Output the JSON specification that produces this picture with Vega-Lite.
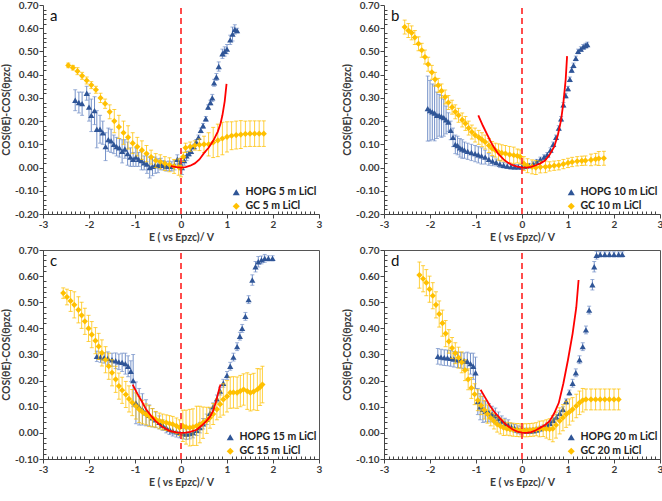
{
"$schema": "https://vega.github.io/schema/vega-lite/v6.json",
"padding": {"left": 0, "top": 0, "right": 0, "bottom": 0},
"columns": 2,
"spacing": {"row": 1, "column": 18},
"resolve": {"scale": {"color": "independent", "shape": "independent"}},
"config": {
  "font": "Lato",
  "view": {"stroke": null},
  "title": {"anchor": "start", "frame": "group", "offset": -24, "dx": 7, "fontSize": 15, "fontWeight": "normal", "font": "Lato", "color": "#111"},
  "axis": {"labelFont": "Lato", "labelFontWeight": "bold", "labelFontSize": 10, "labelColor": "#3a3a3a", "titleFont": "Lato", "titleFontWeight": "bold", "titleFontSize": 10.5, "titleColor": "#3a3a3a", "titlePadding": 3, "domainColor": "#444", "tickColor": "#444", "grid": false, "labelFlush": false, "labelOverlap": false, "labelPadding": 1},
  "legend": {"orient": "bottom-right", "offset": 2, "labelFont": "Lato", "labelFontSize": 10.5, "labelFontWeight": "bold", "labelColor": "#222", "symbolSize": 50, "rowPadding": 3, "padding": 0, "title": null}
},
"datasets": {
  "a": [
    {"s":"H","x":-2.30,"y":0.29,"e":0.045},{"s":"H","x":-2.22,"y":0.28,"e":0.045},{"s":"H","x":-2.15,"y":0.275,"e":0.05},{"s":"H","x":-2.05,"y":0.32,"e":0.03},{"s":"H","x":-2.0,"y":0.26,"e":0.06},{"s":"H","x":-1.95,"y":0.225,"e":0.07},{"s":"H","x":-1.88,"y":0.245,"e":0.06},{"s":"H","x":-1.83,"y":0.165,"e":0.08},{"s":"H","x":-1.76,"y":0.165,"e":0.06},{"s":"H","x":-1.70,"y":0.15,"e":0.05},{"s":"H","x":-1.64,"y":0.09,"e":0.06},{"s":"H","x":-1.58,"y":0.12,"e":0.05},{"s":"H","x":-1.52,"y":0.115,"e":0.05},{"s":"H","x":-1.46,"y":0.10,"e":0.04},{"s":"H","x":-1.40,"y":0.09,"e":0.04},{"s":"H","x":-1.34,"y":0.085,"e":0.04},{"s":"H","x":-1.28,"y":0.07,"e":0.05},{"s":"H","x":-1.22,"y":0.08,"e":0.04},{"s":"H","x":-1.16,"y":0.06,"e":0.05},{"s":"H","x":-1.10,"y":0.045,"e":0.04},{"s":"H","x":-1.04,"y":0.035,"e":0.03},{"s":"H","x":-0.98,"y":0.045,"e":0.04},{"s":"H","x":-0.92,"y":0.035,"e":0.03},{"s":"H","x":-0.86,"y":0.03,"e":0.04},{"s":"H","x":-0.80,"y":0.02,"e":0.03},{"s":"H","x":-0.74,"y":0.015,"e":0.04},{"s":"H","x":-0.68,"y":0.0,"e":0.045},{"s":"H","x":-0.62,"y":0.005,"e":0.04},{"s":"H","x":-0.56,"y":0.01,"e":0.035},{"s":"H","x":-0.50,"y":0.008,"e":0.03},{"s":"H","x":-0.44,"y":0.015,"e":0.025},{"s":"H","x":-0.38,"y":0.01,"e":0.02},{"s":"H","x":-0.32,"y":0.005,"e":0.02},{"s":"H","x":-0.26,"y":0.008,"e":0.02},{"s":"H","x":-0.20,"y":0.005,"e":0.02},{"s":"H","x":-0.14,"y":0.01,"e":0.02},{"s":"H","x":-0.08,"y":0.035,"e":0.02},{"s":"H","x":-0.02,"y":0.02,"e":0.02},{"s":"H","x":0.02,"y":0.0,"e":0.03},{"s":"H","x":0.07,"y":0.03,"e":0.02},{"s":"H","x":0.12,"y":0.05,"e":0.02},{"s":"H","x":0.17,"y":0.06,"e":0.01},{"s":"H","x":0.22,"y":0.07,"e":0.01},{"s":"H","x":0.28,"y":0.09,"e":0.01},{"s":"H","x":0.33,"y":0.11,"e":0.01},{"s":"H","x":0.38,"y":0.13,"e":0.01},{"s":"H","x":0.43,"y":0.16,"e":0.01},{"s":"H","x":0.48,"y":0.18,"e":0.01},{"s":"H","x":0.54,"y":0.21,"e":0.01},{"s":"H","x":0.59,"y":0.26,"e":0.01},{"s":"H","x":0.64,"y":0.28,"e":0.01},{"s":"H","x":0.68,"y":0.30,"e":0.015},{"s":"H","x":0.72,"y":0.365,"e":0.015},{"s":"H","x":0.77,"y":0.39,"e":0.015},{"s":"H","x":0.82,"y":0.435,"e":0.02},{"s":"H","x":0.90,"y":0.49,"e":0.02},{"s":"H","x":0.95,"y":0.50,"e":0.02},{"s":"H","x":1.00,"y":0.51,"e":0.02},{"s":"H","x":1.07,"y":0.55,"e":0.02},{"s":"H","x":1.12,"y":0.575,"e":0.03},{"s":"H","x":1.17,"y":0.595,"e":0.02},{"s":"H","x":1.22,"y":0.59,"e":0.01},
    {"s":"G","x":-2.45,"y":0.44,"e":0.01},{"s":"G","x":-2.35,"y":0.43,"e":0.01},{"s":"G","x":-2.25,"y":0.415,"e":0.015},{"s":"G","x":-2.15,"y":0.395,"e":0.015},{"s":"G","x":-2.05,"y":0.375,"e":0.015},{"s":"G","x":-1.95,"y":0.355,"e":0.015},{"s":"G","x":-1.85,"y":0.335,"e":0.015},{"s":"G","x":-1.75,"y":0.30,"e":0.02},{"s":"G","x":-1.65,"y":0.275,"e":0.02},{"s":"G","x":-1.55,"y":0.24,"e":0.03},{"s":"G","x":-1.45,"y":0.20,"e":0.05},{"s":"G","x":-1.35,"y":0.175,"e":0.05},{"s":"G","x":-1.25,"y":0.15,"e":0.05},{"s":"G","x":-1.15,"y":0.13,"e":0.05},{"s":"G","x":-1.05,"y":0.105,"e":0.045},{"s":"G","x":-0.95,"y":0.09,"e":0.04},{"s":"G","x":-0.85,"y":0.075,"e":0.04},{"s":"G","x":-0.75,"y":0.06,"e":0.035},{"s":"G","x":-0.65,"y":0.045,"e":0.03},{"s":"G","x":-0.55,"y":0.03,"e":0.03},{"s":"G","x":-0.45,"y":0.025,"e":0.03},{"s":"G","x":-0.35,"y":0.017,"e":0.03},{"s":"G","x":-0.25,"y":0.012,"e":0.03},{"s":"G","x":-0.15,"y":0.005,"e":0.03},{"s":"G","x":-0.05,"y":0.002,"e":0.035},{"s":"G","x":0.0,"y":0.0,"e":0.04},{"s":"G","x":0.05,"y":0.046,"e":0.02},{"s":"G","x":0.10,"y":0.085,"e":0.02},{"s":"G","x":0.20,"y":0.09,"e":0.02},{"s":"G","x":0.30,"y":0.095,"e":0.02},{"s":"G","x":0.40,"y":0.098,"e":0.025},{"s":"G","x":0.50,"y":0.10,"e":0.035},{"s":"G","x":0.60,"y":0.10,"e":0.05},{"s":"G","x":0.70,"y":0.108,"e":0.065},{"s":"G","x":0.80,"y":0.117,"e":0.07},{"s":"G","x":0.90,"y":0.125,"e":0.07},{"s":"G","x":1.00,"y":0.132,"e":0.065},{"s":"G","x":1.10,"y":0.137,"e":0.06},{"s":"G","x":1.20,"y":0.14,"e":0.06},{"s":"G","x":1.30,"y":0.142,"e":0.06},{"s":"G","x":1.40,"y":0.145,"e":0.055},{"s":"G","x":1.50,"y":0.146,"e":0.055},{"s":"G","x":1.60,"y":0.146,"e":0.055},{"s":"G","x":1.70,"y":0.146,"e":0.055},{"s":"G","x":1.80,"y":0.146,"e":0.055}
  ],
  "fa": [
    {"x":-0.22,"y":0.006},{"x":-0.1,"y":0.002},{"x":0.0,"y":0.0},{"x":0.1,"y":0.002},{"x":0.2,"y":0.008},{"x":0.3,"y":0.018},{"x":0.4,"y":0.035},{"x":0.5,"y":0.062},{"x":0.6,"y":0.085},{"x":0.7,"y":0.115},{"x":0.8,"y":0.155},{"x":0.86,"y":0.19},{"x":0.9,"y":0.225},{"x":0.95,"y":0.285},{"x":0.99,"y":0.36}
  ],
  "b": [
    {"s":"H","x":-2.05,"y":0.254,"e":0.14},{"s":"H","x":-2.0,"y":0.245,"e":0.13},{"s":"H","x":-1.95,"y":0.24,"e":0.12},{"s":"H","x":-1.90,"y":0.235,"e":0.12},{"s":"H","x":-1.85,"y":0.225,"e":0.1},{"s":"H","x":-1.80,"y":0.225,"e":0.09},{"s":"H","x":-1.75,"y":0.22,"e":0.09},{"s":"H","x":-1.70,"y":0.215,"e":0.08},{"s":"H","x":-1.65,"y":0.205,"e":0.06},{"s":"H","x":-1.60,"y":0.196,"e":0.04},{"s":"H","x":-1.55,"y":0.16,"e":0.04},{"s":"H","x":-1.50,"y":0.13,"e":0.04},{"s":"H","x":-1.45,"y":0.10,"e":0.04},{"s":"H","x":-1.40,"y":0.095,"e":0.04},{"s":"H","x":-1.35,"y":0.085,"e":0.04},{"s":"H","x":-1.30,"y":0.08,"e":0.04},{"s":"H","x":-1.25,"y":0.075,"e":0.035},{"s":"H","x":-1.18,"y":0.07,"e":0.035},{"s":"H","x":-1.10,"y":0.065,"e":0.035},{"s":"H","x":-1.02,"y":0.06,"e":0.035},{"s":"H","x":-0.95,"y":0.055,"e":0.035},{"s":"H","x":-0.88,"y":0.05,"e":0.035},{"s":"H","x":-0.80,"y":0.045,"e":0.03},{"s":"H","x":-0.72,"y":0.035,"e":0.025},{"s":"H","x":-0.64,"y":0.028,"e":0.02},{"s":"H","x":-0.56,"y":0.022,"e":0.015},{"s":"H","x":-0.48,"y":0.015,"e":0.015},{"s":"H","x":-0.40,"y":0.01,"e":0.012},{"s":"H","x":-0.32,"y":0.006,"e":0.01},{"s":"H","x":-0.24,"y":0.004,"e":0.01},{"s":"H","x":-0.16,"y":0.003,"e":0.01},{"s":"H","x":-0.08,"y":0.003,"e":0.01},{"s":"H","x":0.0,"y":0.003,"e":0.01},{"s":"H","x":0.08,"y":0.005,"e":0.01},{"s":"H","x":0.16,"y":0.008,"e":0.01},{"s":"H","x":0.24,"y":0.015,"e":0.01},{"s":"H","x":0.32,"y":0.025,"e":0.01},{"s":"H","x":0.40,"y":0.035,"e":0.01},{"s":"H","x":0.48,"y":0.045,"e":0.01},{"s":"H","x":0.55,"y":0.055,"e":0.01},{"s":"H","x":0.62,"y":0.075,"e":0.01},{"s":"H","x":0.68,"y":0.10,"e":0.01},{"s":"H","x":0.74,"y":0.13,"e":0.01},{"s":"H","x":0.80,"y":0.17,"e":0.01},{"s":"H","x":0.85,"y":0.21,"e":0.01},{"s":"H","x":0.90,"y":0.27,"e":0.01},{"s":"H","x":0.95,"y":0.31,"e":0.01},{"s":"H","x":1.00,"y":0.34,"e":0.01},{"s":"H","x":1.04,"y":0.38,"e":0.01},{"s":"H","x":1.08,"y":0.42,"e":0.01},{"s":"H","x":1.12,"y":0.44,"e":0.01},{"s":"H","x":1.17,"y":0.47,"e":0.01},{"s":"H","x":1.22,"y":0.50,"e":0.01},{"s":"H","x":1.28,"y":0.51,"e":0.01},{"s":"H","x":1.33,"y":0.52,"e":0.01},{"s":"H","x":1.38,"y":0.525,"e":0.01},{"s":"H","x":1.42,"y":0.53,"e":0.01},
    {"s":"G","x":-2.55,"y":0.605,"e":0.03},{"s":"G","x":-2.47,"y":0.59,"e":0.03},{"s":"G","x":-2.40,"y":0.58,"e":0.03},{"s":"G","x":-2.33,"y":0.56,"e":0.03},{"s":"G","x":-2.25,"y":0.533,"e":0.03},{"s":"G","x":-2.18,"y":0.505,"e":0.03},{"s":"G","x":-2.11,"y":0.476,"e":0.03},{"s":"G","x":-2.04,"y":0.445,"e":0.03},{"s":"G","x":-1.96,"y":0.41,"e":0.03},{"s":"G","x":-1.89,"y":0.38,"e":0.03},{"s":"G","x":-1.82,"y":0.354,"e":0.03},{"s":"G","x":-1.75,"y":0.33,"e":0.03},{"s":"G","x":-1.67,"y":0.304,"e":0.03},{"s":"G","x":-1.60,"y":0.28,"e":0.03},{"s":"G","x":-1.52,"y":0.26,"e":0.03},{"s":"G","x":-1.45,"y":0.24,"e":0.03},{"s":"G","x":-1.38,"y":0.225,"e":0.03},{"s":"G","x":-1.30,"y":0.205,"e":0.03},{"s":"G","x":-1.23,"y":0.19,"e":0.03},{"s":"G","x":-1.16,"y":0.17,"e":0.03},{"s":"G","x":-1.09,"y":0.153,"e":0.03},{"s":"G","x":-1.02,"y":0.14,"e":0.03},{"s":"G","x":-0.94,"y":0.13,"e":0.03},{"s":"G","x":-0.87,"y":0.12,"e":0.03},{"s":"G","x":-0.80,"y":0.11,"e":0.03},{"s":"G","x":-0.72,"y":0.095,"e":0.03},{"s":"G","x":-0.65,"y":0.082,"e":0.03},{"s":"G","x":-0.58,"y":0.075,"e":0.03},{"s":"G","x":-0.51,"y":0.067,"e":0.035},{"s":"G","x":-0.44,"y":0.063,"e":0.035},{"s":"G","x":-0.36,"y":0.06,"e":0.035},{"s":"G","x":-0.27,"y":0.056,"e":0.035},{"s":"G","x":-0.18,"y":0.053,"e":0.035},{"s":"G","x":-0.10,"y":0.05,"e":0.03},{"s":"G","x":-0.04,"y":0.046,"e":0.03},{"s":"G","x":0.04,"y":0.017,"e":0.03},{"s":"G","x":0.12,"y":0.008,"e":0.03},{"s":"G","x":0.22,"y":0.003,"e":0.03},{"s":"G","x":0.30,"y":0.0,"e":0.03},{"s":"G","x":0.40,"y":0.002,"e":0.025},{"s":"G","x":0.51,"y":0.003,"e":0.025},{"s":"G","x":0.60,"y":0.005,"e":0.02},{"s":"G","x":0.70,"y":0.008,"e":0.02},{"s":"G","x":0.80,"y":0.01,"e":0.02},{"s":"G","x":0.90,"y":0.015,"e":0.02},{"s":"G","x":1.00,"y":0.02,"e":0.02},{"s":"G","x":1.09,"y":0.024,"e":0.02},{"s":"G","x":1.20,"y":0.027,"e":0.02},{"s":"G","x":1.30,"y":0.029,"e":0.02},{"s":"G","x":1.38,"y":0.03,"e":0.02},{"s":"G","x":1.50,"y":0.033,"e":0.025},{"s":"G","x":1.60,"y":0.036,"e":0.025},{"s":"G","x":1.67,"y":0.039,"e":0.03},{"s":"G","x":1.78,"y":0.04,"e":0.03}
  ],
  "fb": [
    {"x":-0.95,"y":0.225},{"x":-0.85,"y":0.18},{"x":-0.75,"y":0.14},{"x":-0.65,"y":0.10},{"x":-0.52,"y":0.06},{"x":-0.4,"y":0.035},{"x":-0.3,"y":0.02},{"x":-0.2,"y":0.01},{"x":-0.1,"y":0.004},{"x":0.0,"y":0.001},{"x":0.1,"y":0.0},{"x":0.2,"y":0.003},{"x":0.3,"y":0.01},{"x":0.4,"y":0.018},{"x":0.5,"y":0.03},{"x":0.6,"y":0.055},{"x":0.7,"y":0.09},{"x":0.78,"y":0.14},{"x":0.85,"y":0.205},{"x":0.9,"y":0.28},{"x":0.95,"y":0.38},{"x":0.98,"y":0.48}
  ],
  "c": [
    {"s":"H","x":-1.83,"y":0.293,"e":0.02},{"s":"H","x":-1.75,"y":0.29,"e":0.02},{"s":"H","x":-1.67,"y":0.287,"e":0.02},{"s":"H","x":-1.59,"y":0.285,"e":0.025},{"s":"H","x":-1.50,"y":0.28,"e":0.025},{"s":"H","x":-1.42,"y":0.276,"e":0.03},{"s":"H","x":-1.35,"y":0.272,"e":0.03},{"s":"H","x":-1.28,"y":0.27,"e":0.035},{"s":"H","x":-1.21,"y":0.265,"e":0.04},{"s":"H","x":-1.15,"y":0.255,"e":0.04},{"s":"H","x":-1.09,"y":0.236,"e":0.04},{"s":"H","x":-1.04,"y":0.20,"e":0.1},{"s":"H","x":-0.98,"y":0.115,"e":0.08},{"s":"H","x":-0.91,"y":0.10,"e":0.07},{"s":"H","x":-0.84,"y":0.09,"e":0.06},{"s":"H","x":-0.76,"y":0.077,"e":0.05},{"s":"H","x":-0.69,"y":0.067,"e":0.04},{"s":"H","x":-0.62,"y":0.058,"e":0.035},{"s":"H","x":-0.55,"y":0.05,"e":0.03},{"s":"H","x":-0.47,"y":0.04,"e":0.025},{"s":"H","x":-0.40,"y":0.03,"e":0.02},{"s":"H","x":-0.32,"y":0.02,"e":0.02},{"s":"H","x":-0.25,"y":0.014,"e":0.02},{"s":"H","x":-0.18,"y":0.008,"e":0.02},{"s":"H","x":-0.10,"y":0.004,"e":0.02},{"s":"H","x":-0.03,"y":0.001,"e":0.02},{"s":"H","x":0.05,"y":-0.003,"e":0.02},{"s":"H","x":0.12,"y":-0.005,"e":0.02},{"s":"H","x":0.19,"y":-0.003,"e":0.02},{"s":"H","x":0.26,"y":0.001,"e":0.02},{"s":"H","x":0.34,"y":0.01,"e":0.02},{"s":"H","x":0.41,"y":0.02,"e":0.02},{"s":"H","x":0.48,"y":0.035,"e":0.02},{"s":"H","x":0.56,"y":0.052,"e":0.02},{"s":"H","x":0.63,"y":0.075,"e":0.02},{"s":"H","x":0.70,"y":0.10,"e":0.015},{"s":"H","x":0.78,"y":0.13,"e":0.015},{"s":"H","x":0.85,"y":0.16,"e":0.015},{"s":"H","x":0.92,"y":0.19,"e":0.015},{"s":"H","x":1.00,"y":0.22,"e":0.015},{"s":"H","x":1.07,"y":0.255,"e":0.015},{"s":"H","x":1.14,"y":0.29,"e":0.015},{"s":"H","x":1.22,"y":0.33,"e":0.015},{"s":"H","x":1.28,"y":0.37,"e":0.015},{"s":"H","x":1.33,"y":0.40,"e":0.015},{"s":"H","x":1.40,"y":0.446,"e":0.015},{"s":"H","x":1.47,"y":0.51,"e":0.015},{"s":"H","x":1.55,"y":0.585,"e":0.02},{"s":"H","x":1.62,"y":0.636,"e":0.02},{"s":"H","x":1.68,"y":0.655,"e":0.02},{"s":"H","x":1.75,"y":0.662,"e":0.015},{"s":"H","x":1.82,"y":0.668,"e":0.015},{"s":"H","x":1.90,"y":0.668,"e":0.01},{"s":"H","x":1.99,"y":0.668,"e":0.01},
    {"s":"G","x":-2.56,"y":0.535,"e":0.02},{"s":"G","x":-2.48,"y":0.52,"e":0.03},{"s":"G","x":-2.40,"y":0.505,"e":0.04},{"s":"G","x":-2.32,"y":0.49,"e":0.05},{"s":"G","x":-2.23,"y":0.471,"e":0.05},{"s":"G","x":-2.16,"y":0.45,"e":0.05},{"s":"G","x":-2.09,"y":0.427,"e":0.05},{"s":"G","x":-2.01,"y":0.40,"e":0.05},{"s":"G","x":-1.94,"y":0.376,"e":0.05},{"s":"G","x":-1.86,"y":0.353,"e":0.05},{"s":"G","x":-1.79,"y":0.331,"e":0.05},{"s":"G","x":-1.72,"y":0.306,"e":0.05},{"s":"G","x":-1.64,"y":0.28,"e":0.05},{"s":"G","x":-1.57,"y":0.255,"e":0.05},{"s":"G","x":-1.50,"y":0.23,"e":0.05},{"s":"G","x":-1.42,"y":0.205,"e":0.05},{"s":"G","x":-1.35,"y":0.179,"e":0.05},{"s":"G","x":-1.28,"y":0.163,"e":0.05},{"s":"G","x":-1.20,"y":0.147,"e":0.05},{"s":"G","x":-1.13,"y":0.13,"e":0.05},{"s":"G","x":-1.06,"y":0.116,"e":0.05},{"s":"G","x":-0.98,"y":0.103,"e":0.05},{"s":"G","x":-0.91,"y":0.09,"e":0.05},{"s":"G","x":-0.84,"y":0.08,"e":0.045},{"s":"G","x":-0.76,"y":0.071,"e":0.04},{"s":"G","x":-0.69,"y":0.064,"e":0.04},{"s":"G","x":-0.62,"y":0.058,"e":0.035},{"s":"G","x":-0.55,"y":0.052,"e":0.03},{"s":"G","x":-0.47,"y":0.046,"e":0.03},{"s":"G","x":-0.40,"y":0.042,"e":0.03},{"s":"G","x":-0.32,"y":0.039,"e":0.03},{"s":"G","x":-0.25,"y":0.036,"e":0.03},{"s":"G","x":-0.18,"y":0.033,"e":0.03},{"s":"G","x":-0.10,"y":0.027,"e":0.03},{"s":"G","x":-0.03,"y":0.02,"e":0.03},{"s":"G","x":0.04,"y":0.027,"e":0.06},{"s":"G","x":0.11,"y":0.022,"e":0.065},{"s":"G","x":0.19,"y":0.02,"e":0.07},{"s":"G","x":0.26,"y":0.022,"e":0.07},{"s":"G","x":0.34,"y":0.027,"e":0.075},{"s":"G","x":0.41,"y":0.032,"e":0.07},{"s":"G","x":0.48,"y":0.039,"e":0.06},{"s":"G","x":0.56,"y":0.048,"e":0.05},{"s":"G","x":0.63,"y":0.058,"e":0.04},{"s":"G","x":0.70,"y":0.072,"e":0.04},{"s":"G","x":0.78,"y":0.09,"e":0.04},{"s":"G","x":0.85,"y":0.11,"e":0.05},{"s":"G","x":0.92,"y":0.128,"e":0.06},{"s":"G","x":1.00,"y":0.14,"e":0.06},{"s":"G","x":1.07,"y":0.154,"e":0.06},{"s":"G","x":1.14,"y":0.155,"e":0.06},{"s":"G","x":1.22,"y":0.154,"e":0.06},{"s":"G","x":1.29,"y":0.16,"e":0.06},{"s":"G","x":1.36,"y":0.166,"e":0.06},{"s":"G","x":1.44,"y":0.16,"e":0.07},{"s":"G","x":1.51,"y":0.154,"e":0.07},{"s":"G","x":1.58,"y":0.158,"e":0.07},{"s":"G","x":1.66,"y":0.166,"e":0.08},{"s":"G","x":1.72,"y":0.175,"e":0.07},{"s":"G","x":1.77,"y":0.185,"e":0.07}
  ],
  "fc": [
    {"x":-1.05,"y":0.185},{"x":-0.95,"y":0.15},{"x":-0.85,"y":0.12},{"x":-0.76,"y":0.09},{"x":-0.65,"y":0.065},{"x":-0.55,"y":0.045},{"x":-0.4,"y":0.022},{"x":-0.25,"y":0.008},{"x":-0.1,"y":0.002},{"x":0.0,"y":0.0},{"x":0.1,"y":0.001},{"x":0.2,"y":0.004},{"x":0.34,"y":0.012},{"x":0.45,"y":0.028},{"x":0.55,"y":0.045},{"x":0.63,"y":0.062},{"x":0.7,"y":0.085},{"x":0.77,"y":0.125},{"x":0.84,"y":0.175},{"x":0.86,"y":0.185}
  ],
  "d": [
    {"s":"H","x":-1.83,"y":0.293,"e":0.03},{"s":"H","x":-1.76,"y":0.29,"e":0.03},{"s":"H","x":-1.69,"y":0.288,"e":0.03},{"s":"H","x":-1.62,"y":0.287,"e":0.03},{"s":"H","x":-1.55,"y":0.285,"e":0.03},{"s":"H","x":-1.48,"y":0.282,"e":0.03},{"s":"H","x":-1.40,"y":0.28,"e":0.03},{"s":"H","x":-1.33,"y":0.278,"e":0.03},{"s":"H","x":-1.26,"y":0.276,"e":0.03},{"s":"H","x":-1.19,"y":0.274,"e":0.035},{"s":"H","x":-1.12,"y":0.265,"e":0.04},{"s":"H","x":-1.06,"y":0.255,"e":0.05},{"s":"H","x":-1.01,"y":0.23,"e":0.06},{"s":"H","x":-0.96,"y":0.12,"e":0.05},{"s":"H","x":-0.91,"y":0.10,"e":0.05},{"s":"H","x":-0.85,"y":0.09,"e":0.05},{"s":"H","x":-0.79,"y":0.082,"e":0.04},{"s":"H","x":-0.72,"y":0.077,"e":0.035},{"s":"H","x":-0.65,"y":0.072,"e":0.03},{"s":"H","x":-0.58,"y":0.065,"e":0.03},{"s":"H","x":-0.51,"y":0.055,"e":0.025},{"s":"H","x":-0.44,"y":0.045,"e":0.02},{"s":"H","x":-0.37,"y":0.036,"e":0.02},{"s":"H","x":-0.30,"y":0.03,"e":0.02},{"s":"H","x":-0.23,"y":0.022,"e":0.015},{"s":"H","x":-0.16,"y":0.017,"e":0.015},{"s":"H","x":-0.09,"y":0.012,"e":0.015},{"s":"H","x":-0.02,"y":0.01,"e":0.015},{"s":"H","x":0.05,"y":0.008,"e":0.01},{"s":"H","x":0.12,"y":0.008,"e":0.01},{"s":"H","x":0.19,"y":0.008,"e":0.01},{"s":"H","x":0.26,"y":0.009,"e":0.01},{"s":"H","x":0.33,"y":0.012,"e":0.01},{"s":"H","x":0.40,"y":0.016,"e":0.01},{"s":"H","x":0.47,"y":0.021,"e":0.01},{"s":"H","x":0.54,"y":0.028,"e":0.01},{"s":"H","x":0.61,"y":0.037,"e":0.01},{"s":"H","x":0.68,"y":0.048,"e":0.01},{"s":"H","x":0.75,"y":0.06,"e":0.01},{"s":"H","x":0.82,"y":0.075,"e":0.01},{"s":"H","x":0.89,"y":0.09,"e":0.01},{"s":"H","x":0.96,"y":0.12,"e":0.01},{"s":"H","x":1.03,"y":0.154,"e":0.01},{"s":"H","x":1.10,"y":0.19,"e":0.015},{"s":"H","x":1.17,"y":0.23,"e":0.015},{"s":"H","x":1.25,"y":0.28,"e":0.015},{"s":"H","x":1.32,"y":0.33,"e":0.015},{"s":"H","x":1.39,"y":0.394,"e":0.015},{"s":"H","x":1.46,"y":0.47,"e":0.015},{"s":"H","x":1.53,"y":0.567,"e":0.02},{"s":"H","x":1.57,"y":0.636,"e":0.02},{"s":"H","x":1.62,"y":0.68,"e":0.015},{"s":"H","x":1.70,"y":0.683,"e":0.01},{"s":"H","x":1.80,"y":0.683,"e":0.01},{"s":"H","x":1.90,"y":0.683,"e":0.01},{"s":"H","x":2.00,"y":0.683,"e":0.01},{"s":"H","x":2.10,"y":0.683,"e":0.01},{"s":"H","x":2.18,"y":0.683,"e":0.01},
    {"s":"G","x":-2.23,"y":0.604,"e":0.05},{"s":"G","x":-2.15,"y":0.59,"e":0.05},{"s":"G","x":-2.08,"y":0.575,"e":0.05},{"s":"G","x":-2.01,"y":0.55,"e":0.05},{"s":"G","x":-1.94,"y":0.525,"e":0.05},{"s":"G","x":-1.87,"y":0.49,"e":0.05},{"s":"G","x":-1.80,"y":0.455,"e":0.05},{"s":"G","x":-1.73,"y":0.42,"e":0.05},{"s":"G","x":-1.66,"y":0.38,"e":0.05},{"s":"G","x":-1.59,"y":0.35,"e":0.045},{"s":"G","x":-1.52,"y":0.325,"e":0.04},{"s":"G","x":-1.45,"y":0.305,"e":0.04},{"s":"G","x":-1.38,"y":0.288,"e":0.04},{"s":"G","x":-1.31,"y":0.27,"e":0.04},{"s":"G","x":-1.24,"y":0.24,"e":0.04},{"s":"G","x":-1.17,"y":0.205,"e":0.04},{"s":"G","x":-1.10,"y":0.172,"e":0.04},{"s":"G","x":-1.03,"y":0.148,"e":0.04},{"s":"G","x":-0.96,"y":0.125,"e":0.04},{"s":"G","x":-0.89,"y":0.105,"e":0.035},{"s":"G","x":-0.82,"y":0.088,"e":0.035},{"s":"G","x":-0.75,"y":0.072,"e":0.035},{"s":"G","x":-0.68,"y":0.057,"e":0.03},{"s":"G","x":-0.61,"y":0.045,"e":0.03},{"s":"G","x":-0.54,"y":0.033,"e":0.03},{"s":"G","x":-0.47,"y":0.026,"e":0.03},{"s":"G","x":-0.40,"y":0.02,"e":0.03},{"s":"G","x":-0.33,"y":0.016,"e":0.025},{"s":"G","x":-0.26,"y":0.014,"e":0.025},{"s":"G","x":-0.19,"y":0.012,"e":0.025},{"s":"G","x":-0.11,"y":0.011,"e":0.025},{"s":"G","x":-0.04,"y":0.01,"e":0.025},{"s":"G","x":0.03,"y":0.01,"e":0.025},{"s":"G","x":0.10,"y":0.01,"e":0.025},{"s":"G","x":0.17,"y":0.011,"e":0.025},{"s":"G","x":0.24,"y":0.012,"e":0.025},{"s":"G","x":0.31,"y":0.014,"e":0.025},{"s":"G","x":0.38,"y":0.015,"e":0.03},{"s":"G","x":0.46,"y":0.016,"e":0.03},{"s":"G","x":0.53,"y":0.015,"e":0.035},{"s":"G","x":0.60,"y":0.014,"e":0.04},{"s":"G","x":0.67,"y":0.016,"e":0.05},{"s":"G","x":0.74,"y":0.03,"e":0.05},{"s":"G","x":0.82,"y":0.046,"e":0.05},{"s":"G","x":0.89,"y":0.058,"e":0.05},{"s":"G","x":0.96,"y":0.071,"e":0.05},{"s":"G","x":1.03,"y":0.08,"e":0.05},{"s":"G","x":1.10,"y":0.09,"e":0.045},{"s":"G","x":1.18,"y":0.103,"e":0.045},{"s":"G","x":1.25,"y":0.115,"e":0.045},{"s":"G","x":1.32,"y":0.125,"e":0.045},{"s":"G","x":1.39,"y":0.128,"e":0.04},{"s":"G","x":1.50,"y":0.128,"e":0.04},{"s":"G","x":1.60,"y":0.128,"e":0.04},{"s":"G","x":1.70,"y":0.128,"e":0.04},{"s":"G","x":1.80,"y":0.128,"e":0.04},{"s":"G","x":1.90,"y":0.128,"e":0.04},{"s":"G","x":2.00,"y":0.128,"e":0.04},{"s":"G","x":2.10,"y":0.128,"e":0.04}
  ],
  "fd": [
    {"x":-0.9,"y":0.165},{"x":-0.8,"y":0.135},{"x":-0.7,"y":0.105},{"x":-0.6,"y":0.08},{"x":-0.5,"y":0.06},{"x":-0.4,"y":0.04},{"x":-0.3,"y":0.025},{"x":-0.2,"y":0.013},{"x":-0.1,"y":0.005},{"x":0.0,"y":0.001},{"x":0.1,"y":0.0},{"x":0.2,"y":0.003},{"x":0.3,"y":0.01},{"x":0.4,"y":0.02},{"x":0.5,"y":0.03},{"x":0.6,"y":0.045},{"x":0.7,"y":0.075},{"x":0.8,"y":0.115},{"x":0.9,"y":0.19},{"x":1.0,"y":0.28},{"x":1.1,"y":0.38},{"x":1.18,"y":0.48},{"x":1.23,"y":0.585}
  ],
  "z1": [{"x":0,"y":-0.2},{"x":0,"y":0.7}],
  "z2": [{"x":0,"y":-0.1},{"x":0,"y":0.7}]
},
"concat": [
  {
    "width": 276, "height": 209,
    "title": {"text": "a"},
    "encoding": {
      "x": {"field": "x", "type": "quantitative", "scale": {"domain": [-3, 3], "nice": false}, "axis": {"title": "E ( vs Epzc)/ V", "values": [-3,-2.9,-2.8,-2.7,-2.6,-2.5,-2.4,-2.3,-2.2,-2.1,-2,-1.9,-1.8,-1.7,-1.6,-1.5,-1.4,-1.3,-1.2,-1.1,-1,-0.9,-0.8,-0.7,-0.6,-0.5,-0.4,-0.3,-0.2,-0.1,0,0.1,0.2,0.3,0.4,0.5,0.6,0.7,0.8,0.9,1,1.1,1.2,1.3,1.4,1.5,1.6,1.7,1.8,1.9,2,2.1,2.2,2.3,2.4,2.5,2.6,2.7,2.8,2.9,3], "labelExpr": "abs(datum.value-round(datum.value))<0.001 ? replace(format(datum.value,'d'),'\u2212','-') : ''", "tickSize": {"condition": {"test": "abs(datum.value-round(datum.value))<0.001", "value": 4}, "value": -3}}},
      "y": {"field": "y", "type": "quantitative", "scale": {"domain": [-0.2, 0.7], "nice": false, "zero": false}, "axis": {"title": "COS(θE)-COS(θpzc)", "values": [-0.2,-0.18,-0.16,-0.14,-0.12,-0.1,-0.08,-0.06,-0.04,-0.02,0,0.02,0.04,0.06,0.08,0.1,0.12,0.14,0.16,0.18,0.2,0.22,0.24,0.26,0.28,0.3,0.32,0.34,0.36,0.38,0.4,0.42,0.44,0.46,0.48,0.5,0.52,0.54,0.56,0.58,0.6,0.62,0.64,0.66,0.68,0.7], "labelExpr": "abs(datum.value*10-round(datum.value*10))<0.001 ? replace(format(datum.value,'.2f'),'\u2212','-') : ''", "tickSize": {"condition": {"test": "abs(datum.value*10-round(datum.value*10))<0.001", "value": 4}, "value": -3}}}
    },
    "layer": [
      {"data": {"name": "a"}, "transform": [{"filter": "datum.s=='H'"}], "mark": {"type": "errorbar", "color": "#7390c8", "thickness": 1, "ticks": {"size": 4}}, "encoding": {"yError": {"field": "e"}}},
      {"data": {"name": "a"}, "transform": [{"filter": "datum.s=='H'"}], "mark": {"type": "point", "filled": true, "opacity": 1, "size": 38}, "encoding": {"color": {"field": "s", "type": "nominal", "scale": {"domain": ["H","G"], "range": ["#2f5597","#ffc000"]}, "legend": {"labelExpr": "datum.label=='H' ? 'HOPG 5 m LiCl' : 'GC 5 m LiCl'"}}, "shape": {"field": "s", "type": "nominal", "scale": {"domain": ["H","G"], "range": ["triangle-up","diamond"]}, "legend": {"labelExpr": "datum.label=='H' ? 'HOPG 5 m LiCl' : 'GC 5 m LiCl'"}}}},
      {"data": {"name": "a"}, "transform": [{"filter": "datum.s=='G'"}], "mark": {"type": "errorbar", "color": "#ffc000", "opacity": 0.75, "thickness": 1, "ticks": {"size": 4}}, "encoding": {"yError": {"field": "e"}}},
      {"data": {"name": "a"}, "transform": [{"filter": "datum.s=='G'"}], "mark": {"type": "point", "filled": true, "opacity": 1, "size": 38}, "encoding": {"color": {"field": "s", "type": "nominal"}, "shape": {"field": "s", "type": "nominal"}}},
      {"data": {"name": "fa"}, "mark": {"type": "line", "color": "#ff0000", "strokeWidth": 1.8}, "encoding": {}},
      {"data": {"name": "z1"}, "mark": {"type": "line", "color": "#ff2020", "strokeWidth": 1.6, "strokeDash": [6, 4]}, "encoding": {}}
    ]
  },
  {
    "width": 276, "height": 209,
    "title": {"text": "b"},
    "encoding": {
      "x": {"field": "x", "type": "quantitative", "scale": {"domain": [-3, 3], "nice": false}, "axis": {"title": "E ( vs Epzc)/ V", "values": [-3,-2.9,-2.8,-2.7,-2.6,-2.5,-2.4,-2.3,-2.2,-2.1,-2,-1.9,-1.8,-1.7,-1.6,-1.5,-1.4,-1.3,-1.2,-1.1,-1,-0.9,-0.8,-0.7,-0.6,-0.5,-0.4,-0.3,-0.2,-0.1,0,0.1,0.2,0.3,0.4,0.5,0.6,0.7,0.8,0.9,1,1.1,1.2,1.3,1.4,1.5,1.6,1.7,1.8,1.9,2,2.1,2.2,2.3,2.4,2.5,2.6,2.7,2.8,2.9,3], "labelExpr": "abs(datum.value-round(datum.value))<0.001 ? replace(format(datum.value,'d'),'\u2212','-') : ''", "tickSize": {"condition": {"test": "abs(datum.value-round(datum.value))<0.001", "value": 4}, "value": -3}}},
      "y": {"field": "y", "type": "quantitative", "scale": {"domain": [-0.2, 0.7], "nice": false, "zero": false}, "axis": {"title": "COS(θE)-COS(θpzc)", "values": [-0.2,-0.18,-0.16,-0.14,-0.12,-0.1,-0.08,-0.06,-0.04,-0.02,0,0.02,0.04,0.06,0.08,0.1,0.12,0.14,0.16,0.18,0.2,0.22,0.24,0.26,0.28,0.3,0.32,0.34,0.36,0.38,0.4,0.42,0.44,0.46,0.48,0.5,0.52,0.54,0.56,0.58,0.6,0.62,0.64,0.66,0.68,0.7], "labelExpr": "abs(datum.value*10-round(datum.value*10))<0.001 ? replace(format(datum.value,'.2f'),'\u2212','-') : ''", "tickSize": {"condition": {"test": "abs(datum.value*10-round(datum.value*10))<0.001", "value": 4}, "value": -3}}}
    },
    "layer": [
      {"data": {"name": "b"}, "transform": [{"filter": "datum.s=='H'"}], "mark": {"type": "errorbar", "color": "#7390c8", "thickness": 1, "ticks": {"size": 4}}, "encoding": {"yError": {"field": "e"}}},
      {"data": {"name": "b"}, "transform": [{"filter": "datum.s=='H'"}], "mark": {"type": "point", "filled": true, "opacity": 1, "size": 38}, "encoding": {"color": {"field": "s", "type": "nominal", "scale": {"domain": ["H","G"], "range": ["#2f5597","#ffc000"]}, "legend": {"labelExpr": "datum.label=='H' ? 'HOPG 10 m LiCl' : 'GC 10 m LiCl'"}}, "shape": {"field": "s", "type": "nominal", "scale": {"domain": ["H","G"], "range": ["triangle-up","diamond"]}, "legend": {"labelExpr": "datum.label=='H' ? 'HOPG 10 m LiCl' : 'GC 10 m LiCl'"}}}},
      {"data": {"name": "b"}, "transform": [{"filter": "datum.s=='G'"}], "mark": {"type": "errorbar", "color": "#ffc000", "opacity": 0.75, "thickness": 1, "ticks": {"size": 4}}, "encoding": {"yError": {"field": "e"}}},
      {"data": {"name": "b"}, "transform": [{"filter": "datum.s=='G'"}], "mark": {"type": "point", "filled": true, "opacity": 1, "size": 38}, "encoding": {"color": {"field": "s", "type": "nominal"}, "shape": {"field": "s", "type": "nominal"}}},
      {"data": {"name": "fb"}, "mark": {"type": "line", "color": "#ff0000", "strokeWidth": 1.8}, "encoding": {}},
      {"data": {"name": "z1"}, "mark": {"type": "line", "color": "#ff2020", "strokeWidth": 1.6, "strokeDash": [6, 4]}, "encoding": {}}
    ]
  },
  {
    "width": 276, "height": 209,
    "title": {"text": "c"},
    "view": {"stroke": "#555", "strokeWidth": 1},
    "encoding": {
      "x": {"field": "x", "type": "quantitative", "scale": {"domain": [-3, 3], "nice": false}, "axis": {"title": "E ( vs Epzc)/ V", "values": [-3,-2.9,-2.8,-2.7,-2.6,-2.5,-2.4,-2.3,-2.2,-2.1,-2,-1.9,-1.8,-1.7,-1.6,-1.5,-1.4,-1.3,-1.2,-1.1,-1,-0.9,-0.8,-0.7,-0.6,-0.5,-0.4,-0.3,-0.2,-0.1,0,0.1,0.2,0.3,0.4,0.5,0.6,0.7,0.8,0.9,1,1.1,1.2,1.3,1.4,1.5,1.6,1.7,1.8,1.9,2,2.1,2.2,2.3,2.4,2.5,2.6,2.7,2.8,2.9,3], "labelExpr": "abs(datum.value-round(datum.value))<0.001 ? replace(format(datum.value,'d'),'\u2212','-') : ''", "tickSize": {"condition": {"test": "abs(datum.value-round(datum.value))<0.001", "value": 4}, "value": -3}}},
      "y": {"field": "y", "type": "quantitative", "scale": {"domain": [-0.1, 0.7], "nice": false, "zero": false}, "axis": {"title": "COS(θE)-COS(θpzc)", "values": [-0.1,-0.08,-0.06,-0.04,-0.02,0,0.02,0.04,0.06,0.08,0.1,0.12,0.14,0.16,0.18,0.2,0.22,0.24,0.26,0.28,0.3,0.32,0.34,0.36,0.38,0.4,0.42,0.44,0.46,0.48,0.5,0.52,0.54,0.56,0.58,0.6,0.62,0.64,0.66,0.68,0.7], "labelExpr": "abs(datum.value*10-round(datum.value*10))<0.001 ? replace(format(datum.value,'.2f'),'\u2212','-') : ''", "tickSize": {"condition": {"test": "abs(datum.value*10-round(datum.value*10))<0.001", "value": 4}, "value": -3}}}
    },
    "layer": [
      {"data": {"name": "c"}, "transform": [{"filter": "datum.s=='H'"}], "mark": {"type": "errorbar", "color": "#7390c8", "thickness": 1, "ticks": {"size": 4}}, "encoding": {"yError": {"field": "e"}}},
      {"data": {"name": "c"}, "transform": [{"filter": "datum.s=='H'"}], "mark": {"type": "point", "filled": true, "opacity": 1, "size": 38}, "encoding": {"color": {"field": "s", "type": "nominal", "scale": {"domain": ["H","G"], "range": ["#2f5597","#ffc000"]}, "legend": {"labelExpr": "datum.label=='H' ? 'HOPG 15 m LiCl' : 'GC 15 m LiCl'"}}, "shape": {"field": "s", "type": "nominal", "scale": {"domain": ["H","G"], "range": ["triangle-up","diamond"]}, "legend": {"labelExpr": "datum.label=='H' ? 'HOPG 15 m LiCl' : 'GC 15 m LiCl'"}}}},
      {"data": {"name": "c"}, "transform": [{"filter": "datum.s=='G'"}], "mark": {"type": "errorbar", "color": "#ffc000", "opacity": 0.75, "thickness": 1, "ticks": {"size": 4}}, "encoding": {"yError": {"field": "e"}}},
      {"data": {"name": "c"}, "transform": [{"filter": "datum.s=='G'"}], "mark": {"type": "point", "filled": true, "opacity": 1, "size": 38}, "encoding": {"color": {"field": "s", "type": "nominal"}, "shape": {"field": "s", "type": "nominal"}}},
      {"data": {"name": "fc"}, "mark": {"type": "line", "color": "#ff0000", "strokeWidth": 1.8}, "encoding": {}},
      {"data": {"name": "z2"}, "mark": {"type": "line", "color": "#ff2020", "strokeWidth": 1.6, "strokeDash": [6, 4]}, "encoding": {}}
    ]
  },
  {
    "width": 276, "height": 209,
    "title": {"text": "d"},
    "view": {"stroke": "#555", "strokeWidth": 1},
    "encoding": {
      "x": {"field": "x", "type": "quantitative", "scale": {"domain": [-3, 3], "nice": false}, "axis": {"title": "E ( vs Epzc)/ V", "values": [-3,-2.9,-2.8,-2.7,-2.6,-2.5,-2.4,-2.3,-2.2,-2.1,-2,-1.9,-1.8,-1.7,-1.6,-1.5,-1.4,-1.3,-1.2,-1.1,-1,-0.9,-0.8,-0.7,-0.6,-0.5,-0.4,-0.3,-0.2,-0.1,0,0.1,0.2,0.3,0.4,0.5,0.6,0.7,0.8,0.9,1,1.1,1.2,1.3,1.4,1.5,1.6,1.7,1.8,1.9,2,2.1,2.2,2.3,2.4,2.5,2.6,2.7,2.8,2.9,3], "labelExpr": "abs(datum.value-round(datum.value))<0.001 ? replace(format(datum.value,'d'),'\u2212','-') : ''", "tickSize": {"condition": {"test": "abs(datum.value-round(datum.value))<0.001", "value": 4}, "value": -3}}},
      "y": {"field": "y", "type": "quantitative", "scale": {"domain": [-0.1, 0.7], "nice": false, "zero": false}, "axis": {"title": "COS(θE)-COS(θpzc)", "values": [-0.1,-0.08,-0.06,-0.04,-0.02,0,0.02,0.04,0.06,0.08,0.1,0.12,0.14,0.16,0.18,0.2,0.22,0.24,0.26,0.28,0.3,0.32,0.34,0.36,0.38,0.4,0.42,0.44,0.46,0.48,0.5,0.52,0.54,0.56,0.58,0.6,0.62,0.64,0.66,0.68,0.7], "labelExpr": "abs(datum.value*10-round(datum.value*10))<0.001 ? replace(format(datum.value,'.2f'),'\u2212','-') : ''", "tickSize": {"condition": {"test": "abs(datum.value*10-round(datum.value*10))<0.001", "value": 4}, "value": -3}}}
    },
    "layer": [
      {"data": {"name": "d"}, "transform": [{"filter": "datum.s=='H'"}], "mark": {"type": "errorbar", "color": "#7390c8", "thickness": 1, "ticks": {"size": 4}}, "encoding": {"yError": {"field": "e"}}},
      {"data": {"name": "d"}, "transform": [{"filter": "datum.s=='H'"}], "mark": {"type": "point", "filled": true, "opacity": 1, "size": 38}, "encoding": {"color": {"field": "s", "type": "nominal", "scale": {"domain": ["H","G"], "range": ["#2f5597","#ffc000"]}, "legend": {"labelExpr": "datum.label=='H' ? 'HOPG 20 m LiCl' : 'GC 20 m LiCl'"}}, "shape": {"field": "s", "type": "nominal", "scale": {"domain": ["H","G"], "range": ["triangle-up","diamond"]}, "legend": {"labelExpr": "datum.label=='H' ? 'HOPG 20 m LiCl' : 'GC 20 m LiCl'"}}}},
      {"data": {"name": "d"}, "transform": [{"filter": "datum.s=='G'"}], "mark": {"type": "errorbar", "color": "#ffc000", "opacity": 0.75, "thickness": 1, "ticks": {"size": 4}}, "encoding": {"yError": {"field": "e"}}},
      {"data": {"name": "d"}, "transform": [{"filter": "datum.s=='G'"}], "mark": {"type": "point", "filled": true, "opacity": 1, "size": 38}, "encoding": {"color": {"field": "s", "type": "nominal"}, "shape": {"field": "s", "type": "nominal"}}},
      {"data": {"name": "fd"}, "mark": {"type": "line", "color": "#ff0000", "strokeWidth": 1.8}, "encoding": {}},
      {"data": {"name": "z2"}, "mark": {"type": "line", "color": "#ff2020", "strokeWidth": 1.6, "strokeDash": [6, 4]}, "encoding": {}}
    ]
  }
]
}
